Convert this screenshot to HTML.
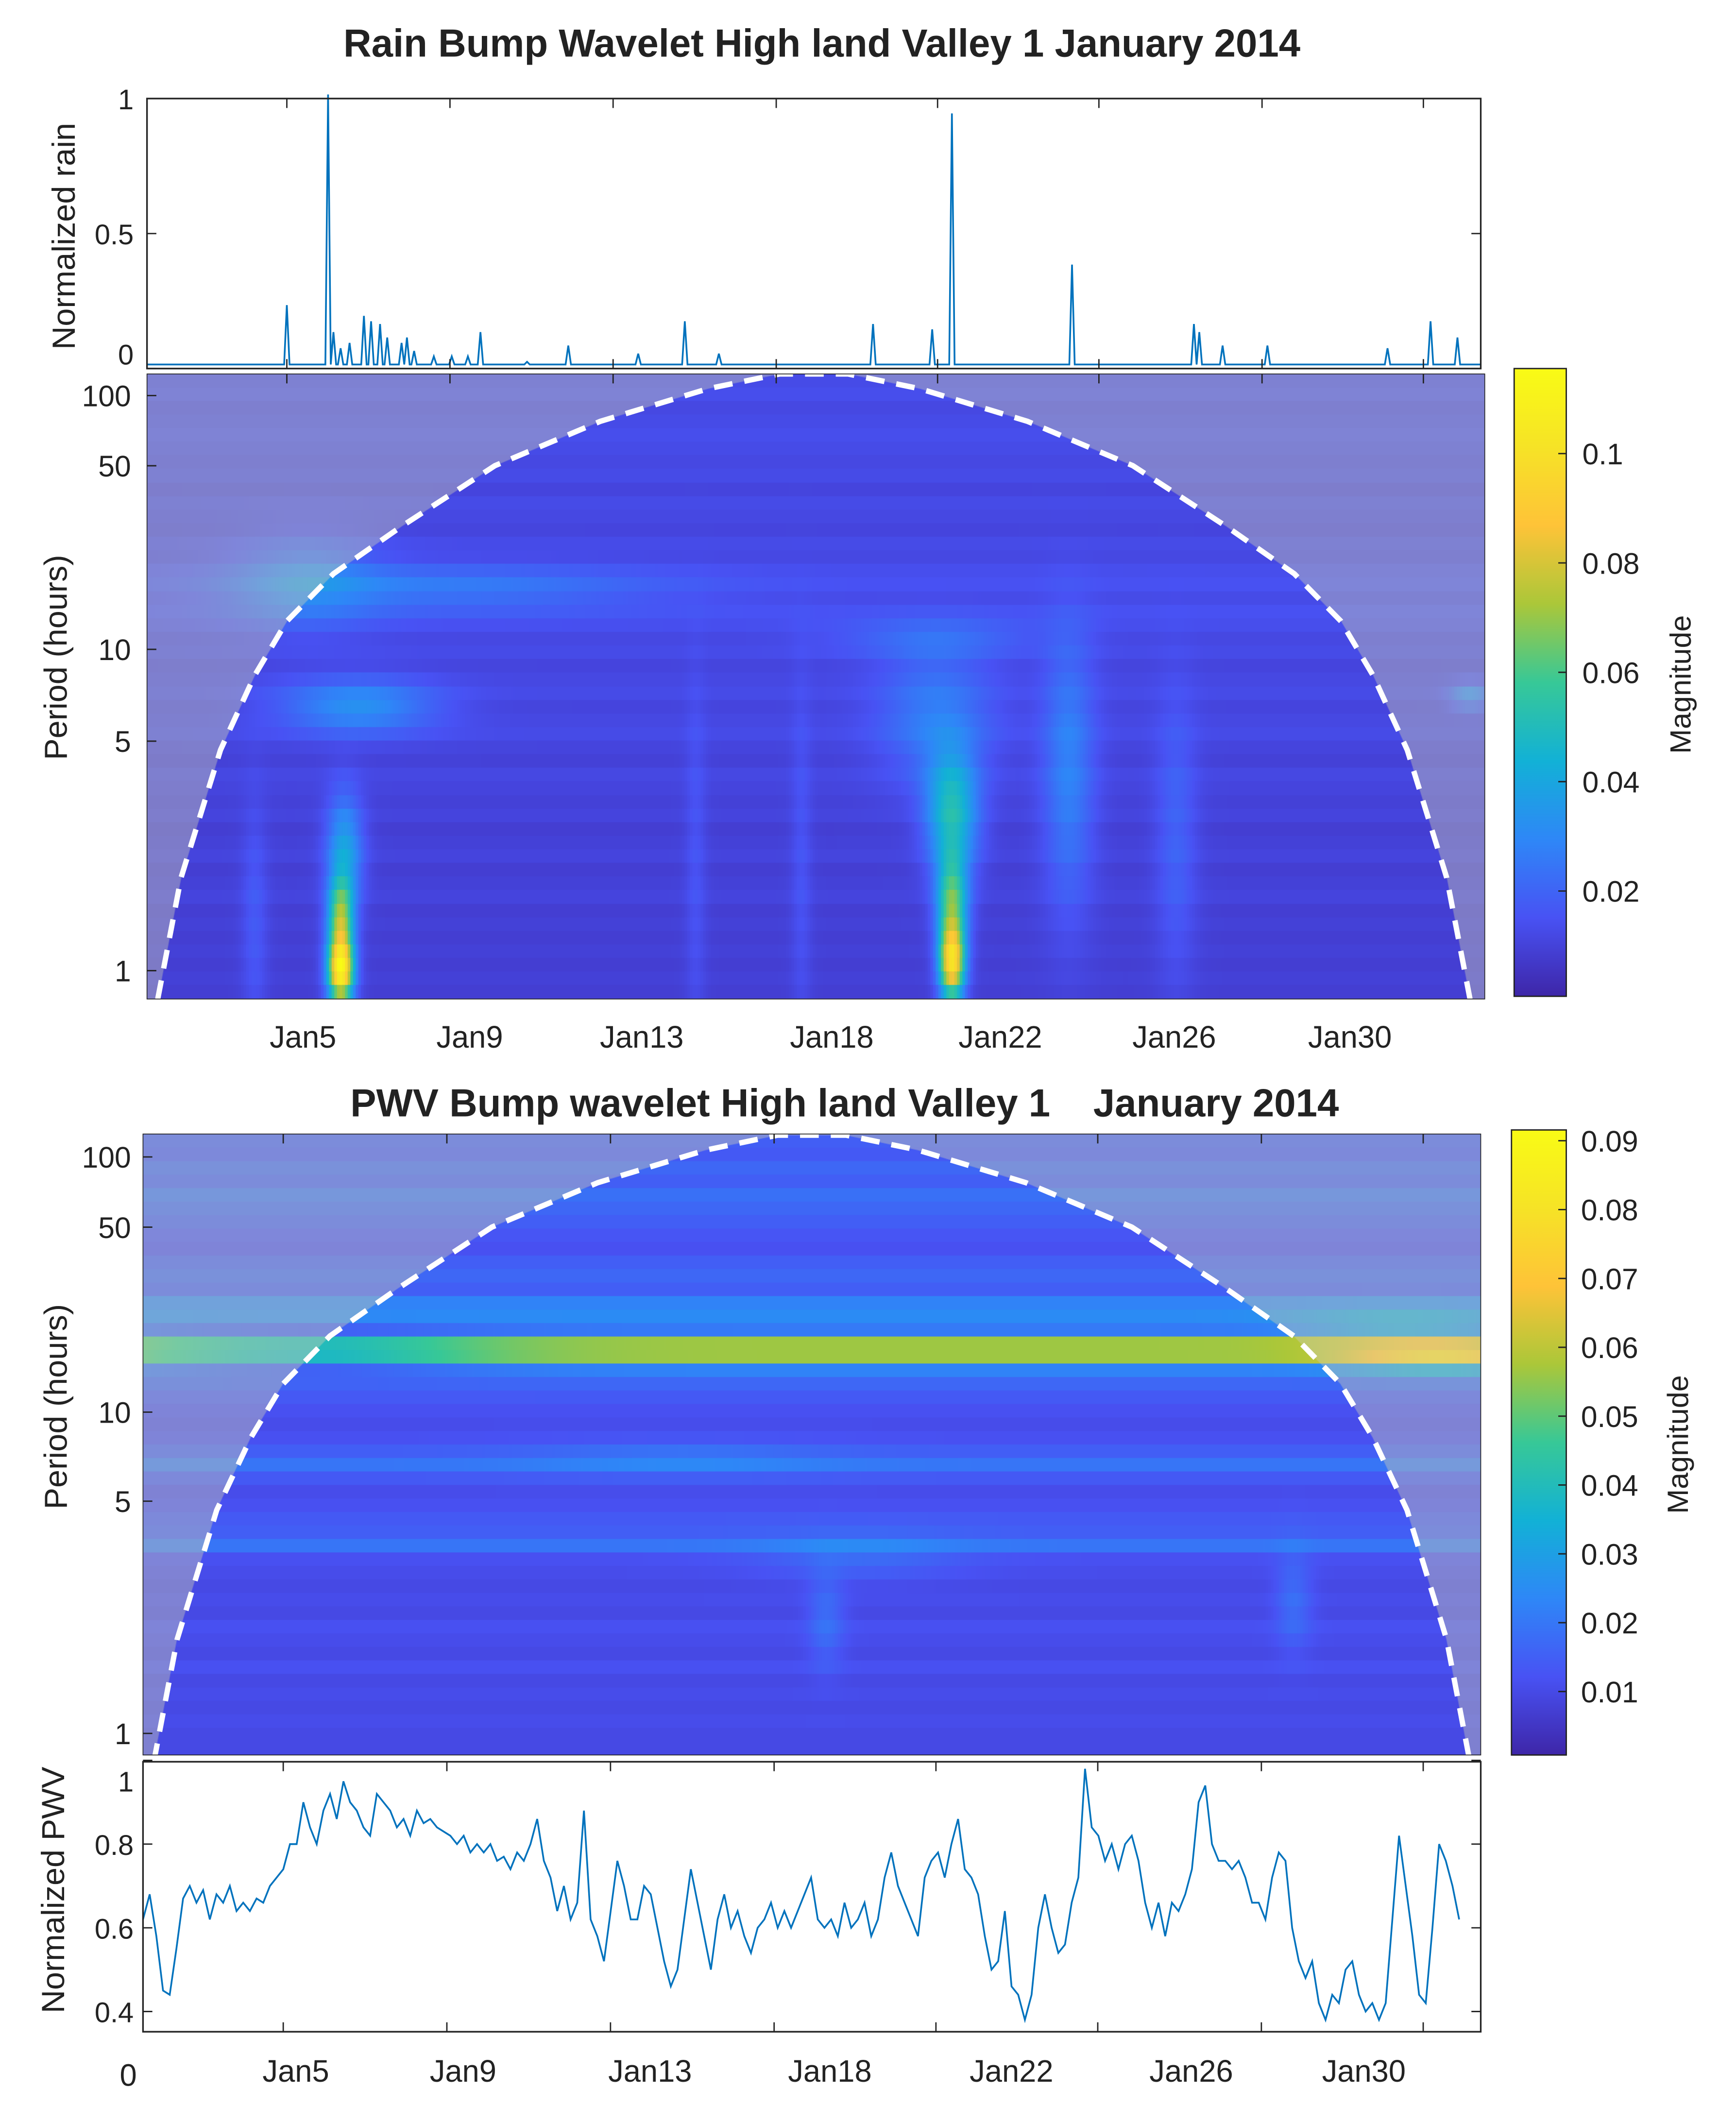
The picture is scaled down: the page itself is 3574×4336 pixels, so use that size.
<!DOCTYPE html>
<html><head><meta charset="utf-8">
<style>
html,body{margin:0;padding:0;background:#fff;}
body{width:3574px;height:4336px;position:relative;overflow:hidden;}
canvas{position:absolute;}
svg{position:absolute;left:0;top:0;}
text{font-family:"Liberation Sans",sans-serif;fill:#222;}
</style></head>
<body>
<canvas id="hm1"></canvas>
<canvas id="hm2"></canvas>
<svg id="main" width="3574" height="4336" viewBox="0 0 1299 1560" preserveAspectRatio="none">
<defs>
<linearGradient id="parula" x1="0" y1="1" x2="0" y2="0">
<stop offset="0" stop-color="rgb(62,38,168)"/><stop offset="0.125" stop-color="rgb(72,82,244)"/>
<stop offset="0.25" stop-color="rgb(46,135,247)"/><stop offset="0.375" stop-color="rgb(18,177,214)"/>
<stop offset="0.5" stop-color="rgb(55,200,151)"/><stop offset="0.625" stop-color="rgb(171,199,57)"/>
<stop offset="0.75" stop-color="rgb(254,195,56)"/><stop offset="0.875" stop-color="rgb(246,227,38)"/>
<stop offset="1" stop-color="rgb(249,251,21)"/></linearGradient>
</defs>
<text x="615" y="42" font-size="29" font-weight="bold" text-anchor="middle">Rain Bump Wavelet High land Valley 1 January 2014</text>
<text x="632" y="827" font-size="29" font-weight="bold" text-anchor="middle" xml:space="preserve">PWV Bump wavelet High land Valley 1    January 2014</text>
<text transform="translate(56,175) rotate(-90)" font-size="24" text-anchor="middle">Normalized rain</text>
<text transform="translate(50,487) rotate(-90)" font-size="24" text-anchor="middle">Period (hours)</text>
<text transform="translate(50,1042) rotate(-90)" font-size="24" text-anchor="middle">Period (hours)</text>
<text transform="translate(48,1400) rotate(-90)" font-size="24" text-anchor="middle">Normalized PWV</text>
<text transform="translate(1265,507) rotate(-90)" font-size="22" text-anchor="middle">Magnitude</text>
<text transform="translate(1263,1070) rotate(-90)" font-size="22" text-anchor="middle">Magnitude</text>
<rect x="1133" y="273" width="39" height="465" fill="url(#parula)" stroke="#222" stroke-width="1"/>
<rect x="1131" y="837" width="41" height="463" fill="url(#parula)" stroke="#222" stroke-width="1"/>
<g id="dyn"></g>
</svg>
<script>
// ---------- data ----------
const rainSpikeHours=[78,101,104,108,113,121,125,130,134,142,145,149,160,170,179,186,212,235,274,300,319,405,438,449,516,584,587,600,625,692,716,731];
const rainSpikeValues=[0.22,1.0,0.12,0.06,0.08,0.18,0.16,0.15,0.10,0.08,0.10,0.05,0.03,0.03,0.03,0.12,0.01,0.07,0.04,0.16,0.04,0.15,0.13,0.93,0.37,0.15,0.12,0.07,0.07,0.06,0.16,0.10];
const pwvValues=[0.62,0.68,0.58,0.45,0.44,0.55,0.67,0.70,0.66,0.69,0.62,0.68,0.66,0.70,0.64,0.66,0.64,0.67,0.66,0.70,0.72,0.74,0.80,0.80,0.90,0.84,0.80,0.88,0.92,0.86,0.95,0.90,0.88,0.84,0.82,0.92,0.90,0.88,0.84,0.86,0.82,0.88,0.85,0.86,0.84,0.83,0.82,0.80,0.82,0.78,0.80,0.78,0.80,0.76,0.77,0.74,0.78,0.76,0.80,0.86,0.76,0.72,0.64,0.70,0.62,0.66,0.88,0.62,0.58,0.52,0.64,0.76,0.70,0.62,0.62,0.70,0.68,0.60,0.52,0.46,0.50,0.62,0.74,0.66,0.58,0.50,0.62,0.68,0.60,0.64,0.58,0.54,0.60,0.62,0.66,0.60,0.64,0.60,0.64,0.68,0.72,0.62,0.60,0.62,0.58,0.66,0.60,0.62,0.66,0.58,0.62,0.72,0.78,0.70,0.66,0.62,0.58,0.72,0.76,0.78,0.72,0.80,0.86,0.74,0.72,0.68,0.58,0.50,0.52,0.64,0.46,0.44,0.38,0.44,0.60,0.68,0.60,0.54,0.56,0.66,0.72,0.98,0.84,0.82,0.76,0.80,0.74,0.80,0.82,0.76,0.66,0.60,0.66,0.58,0.66,0.64,0.68,0.74,0.90,0.94,0.80,0.76,0.76,0.74,0.76,0.72,0.66,0.66,0.62,0.72,0.78,0.76,0.60,0.52,0.48,0.52,0.42,0.38,0.44,0.42,0.50,0.52,0.44,0.40,0.42,0.38,0.42,0.62,0.82,0.70,0.58,0.44,0.42,0.60,0.80,0.76,0.70,0.62];
const pwvEndHour=732;
const tickHours=[78,169,260,351,441,531,622,712];
const dayLabels=["Jan5","Jan9","Jan13","Jan18","Jan22","Jan26","Jan30"];
const rainLabelHours=[87,180,276,382,476,573,671];
const pwvLabelHours=[85,178,282,382,483,583,679];
const rainTicks=[0,0.5,1];
const pwvTicks=[0.4,0.6,0.8,1];
const periodTicks=[1,5,10,50,100];
const rainCbarTicks=[0.02,0.04,0.06,0.08,0.1];
const pwvCbarTicks=[0.01,0.02,0.03,0.04,0.05,0.06,0.07,0.08,0.09];
const coiHoursLeft=[6,19,41,60,78,104,142,194,253,313,353];
const coiPeriods=[0.82,1.92,4.7,8.2,12.8,19.4,29.4,50,77.6,107,124];
const rainRowMags=[0.012,0.013,0.011,0.012,0.013,0.012,0.011,0.012,0.010,0.012,0.011,0.010,0.012,0.011,0.013,0.014,0.012,0.014,0.013,0.011,0.012,0.010,0.011,0.012,0.010,0.011,0.012,0.010,0.009,0.011,0.010,0.009,0.010,0.008,0.009,0.010,0.008,0.009,0.010,0.008,0.009,0.008,0.009,0.008,0.009,0.008];
const rainBlobs=[[108,1.0,5,0.07,0.10],[108,1.45,5,0.08,0.055],[110,2.3,7,0.12,0.03],[118,6.5,30,0.06,0.022],[449,1.05,5,0.08,0.085],[449,1.6,6,0.1,0.05],[449,3.0,10,0.13,0.04],[440,6,22,0.15,0.016],[440,11,40,0.05,0.01],[514,4,10,0.3,0.018],[574,2.5,8,0.3,0.01],[306,2,4,0.4,0.006],[365,2,4,0.4,0.006],[60,1.4,5,0.25,0.008],[171,17,80,0.06,0.012],[89,18,28,0.12,0.014],[738,7,8,0.03,0.018]];
const pwvRowMags=[0.014,0.013,0.016,0.014,0.018,0.016,0.014,0.012,0.011,0.014,0.016,0.014,0.022,0.024,0.02,0.056,0.056,0.022,0.016,0.013,0.011,0.01,0.011,0.014,0.019,0.013,0.01,0.011,0.013,0.014,0.019,0.011,0.01,0.009,0.01,0.009,0.011,0.01,0.009,0.011,0.009,0.01,0.009,0.01,0.009,0.009];
const pwvBlobs=[[90,17,70,0.05,-0.02],[720,16,35,0.04,0.02],[700,21,40,0.05,0.01],[380,2.2,7,0.1,0.008],[640,2.5,7,0.1,0.008],[400,3.4,40,0.05,0.006],[300,7,60,0.04,0.005]];
// ---------- helpers ----------
const SX=3574/1299, SY=4336/1560;
const NS="http://www.w3.org/2000/svg";
const dyn=document.getElementById('dyn');
function el(tag,attrs){const e=document.createElementNS(NS,tag);for(const k in attrs)e.setAttribute(k,attrs[k]);dyn.appendChild(e);return e;}
const xr=h=>110+h*998/744;
const xp=h=>107+h*1001/744;
const yRain=v=>273-v*200;
const yPwv=v=>1490-(v-0.4)*310;
function makePeriodY(tickYs){return p=>{const lp=Math.log10(p);const lt=periodTicks.map(Math.log10);
 let i=0;if(lp>lt[lt.length-1])i=lt.length-2;else{while(i<lt.length-2&&lp>lt[i+1])i++;}
 const t=(lp-lt[i])/(lt[i+1]-lt[i]);return tickYs[i]+t*(tickYs[i+1]-tickYs[i]);};}
function makeYPeriod(tickYs){const lt=periodTicks.map(Math.log10);return y=>{
 let i=0;if(y<tickYs[tickYs.length-1])i=tickYs.length-2;else{while(i<tickYs.length-2&&y<tickYs[i+1])i++;}
 const t=(y-tickYs[i])/(tickYs[i+1]-tickYs[i]);return Math.pow(10,lt[i]+t*(lt[i+1]-lt[i]));};}
const rainPY=[719,549,481,345,293], pwvPY=[1284,1112,1046,909,857];
const yRainP=makePeriodY(rainPY), yPwvP=makePeriodY(pwvPY);
const pRainY=makeYPeriod(rainPY), pPwvY=makeYPeriod(pwvPY);
const stops=[[62,38,168],[72,82,244],[46,135,247],[18,177,214],[55,200,151],[171,199,57],[254,195,56],[246,227,38],[249,251,21]];
function parula(t){t=Math.max(0,Math.min(1,t))*8;const i=Math.min(7,Math.floor(t)),f=t-i;const a=stops[i],b=stops[i+1];return [0,1,2].map(k=>Math.round(a[k]+f*(b[k]-a[k])));}
function coiPoints(xf,yf){const pts=[];for(let i=0;i<coiHoursLeft.length;i++)pts.push([xf(coiHoursLeft[i]),yf(coiPeriods[i])]);
 for(let i=coiHoursLeft.length-1;i>=0;i--)pts.push([xf(744-coiHoursLeft[i]),yf(coiPeriods[i])]);return pts;}
function drawHeat(id,x0,y0,w,h,rows,blobs,xf,pY,yf,cmax){
 const c=document.getElementById(id);const R=2;c.width=w*R;c.height=h*R;
 c.style.left=(x0*SX)+'px';c.style.top=(y0*SY)+'px';c.style.width=(w*SX)+'px';c.style.height=(h*SY)+'px';
 const ctx=c.getContext('2d');const rh=h/rows.length;const cw=2;
 const hOf=x=>(x-xf(0))/(xf(744)-xf(0))*744;
 for(let r=0;r<rows.length;r++){const yc=y0+(r+0.5)*rh;const lp=Math.log10(pY(yc));
  for(let cx=0;cx<w;cx+=cw){const hr=hOf(x0+cx+cw/2);let m=rows[r];
   for(const b of blobs){const dx=(hr-b[0])/b[2],dy=(lp-Math.log10(b[1]))/b[3];m+=b[4]*Math.exp(-0.5*(dx*dx+dy*dy));}
   const col=parula(m/cmax);ctx.fillStyle='rgb('+col+')';ctx.fillRect(cx*R,Math.floor(r*rh*R),cw*R+1,Math.ceil(rh*R)+1);}}
 const pts=coiPoints(xf,yf);ctx.beginPath();ctx.rect(0,0,w*R,h*R);
 ctx.moveTo((pts[0][0]-x0)*R,h*R);pts.forEach(p=>ctx.lineTo((p[0]-x0)*R,Math.max(0,(p[1]-y0))*R));ctx.lineTo((pts[pts.length-1][0]-x0)*R,h*R);ctx.closePath();
 ctx.fillStyle='rgba(204,204,180,0.42)';ctx.fill('evenodd');}
drawHeat('hm1',110,277,1001,463,rainRowMags,rainBlobs,xr,pRainY,yRainP,0.1155);
drawHeat('hm2',107,840,1001,460,pwvRowMags,pwvBlobs,xp,pPwvY,yPwvP,0.0916);
// COI dashed curves
[[xr,yRainP,'rain-coi-boundary',277],[xp,yPwvP,'pwv-coi-boundary',840]].forEach(([xf,yf,nm,top])=>{
 const pts=coiPoints(xf,yf).map(p=>[p[0],Math.max(top,p[1])]);
 const e=el('polyline',{points:pts.map(p=>p.join(',')).join(' '),fill:'none',stroke:'#fff','stroke-width':4,'stroke-dasharray':'14,9','stroke-linejoin':'round'});
 
 });
// rain line
{const pts=[[0,0]];rainSpikeHours.forEach((hh,i)=>{pts.push([hh-1.5,0],[hh,rainSpikeValues[i]],[hh+1.5,0]);});pts.push([744,0]);
 const e=el('polyline',{points:pts.map(p=>xr(p[0])+','+(yRain(p[1])-3)).join(' '),fill:'none',stroke:'#0072bd','stroke-width':1.3});
 
 }
// pwv line
{const n=pwvValues.length;const e=el('polyline',{points:pwvValues.map((v,i)=>xp(i*pwvEndHour/(n-1))+','+yPwv(v)).join(' '),fill:'none',stroke:'#0072bd','stroke-width':1.3});
 
 }
// axes boxes
[[110,73,998,200,'rain-axes-box'],[110,277,1001,463,'rain-heatmap-frame'],[107,840,1001,460,'pwv-heatmap-frame'],[107,1305,1001,200,'pwv-axes-box']].forEach(a=>{
 const e=el('rect',{x:a[0],y:a[1],width:a[2],height:a[3],fill:'none',stroke:'#222','stroke-width':a[4].includes('heatmap')?0.6:1.2});
 
 });
// x ticks
tickHours.forEach(hh=>{[[xr,73,80],[xr,273,266],[xr,277,284],[xp,840,847],[xp,1305,1312],[xp,1505,1498]].forEach(([xf,a,b])=>{
 const e=el('line',{x1:xf(hh),x2:xf(hh),y1:a,y2:b,stroke:'#222','stroke-width':1});
 
 });});
function txt(x,y,s,size,anchor,name){const e=el('text',{x:x,y:y,'font-size':size,'text-anchor':anchor});e.textContent=s;
 
 return e;}
dayLabels.forEach((s,i)=>{txt(xr(rainLabelHours[i]),776,s,23,'middle','rain-x-tick-label');txt(xp(pwvLabelHours[i]),1542,s,23,'middle','pwv-x-tick-label');});
txt(96,1545,'0',23,'middle','pwv-x-tick-label');
rainTicks.forEach(v=>{txt(100,Math.min(yRain(v)+8,270),String(v),21,'end','rain-y-tick-label');
 [[110,117],[1108,1101]].forEach(([a,b])=>{const e=el('line',{x1:a,x2:b,y1:yRain(v),y2:yRain(v),stroke:'#222','stroke-width':1});
 
 });});
pwvTicks.forEach(v=>{txt(100,Math.max(1327,yPwv(v)+8),String(v),21,'end','pwv-y-tick-label');
 [[107,114],[1108,1101]].forEach(([a,b])=>{const e=el('line',{x1:a,x2:b,y1:yPwv(v),y2:yPwv(v),stroke:'#222','stroke-width':1});
 
 });});
periodTicks.forEach(p=>{txt(98,yRainP(p)+8,String(p),22,'end','rain-period-tick-label');txt(98,yPwvP(p)+8,String(p),22,'end','pwv-period-tick-label');
 [[110,117,yRainP(p)],[107,114,yPwvP(p)]].forEach(([a,b,y])=>{const e=el('line',{x1:a,x2:b,y1:y,y2:y,stroke:'#222','stroke-width':1});
 
 });});
rainCbarTicks.forEach(v=>{const y=741-v/0.02*81;txt(1184,y+8,String(v),22,'start','rain-colorbar-tick-label');
 const e=el('line',{x1:1166,x2:1172,y1:y,y2:y,stroke:'#222','stroke-width':1});
 
 });
pwvCbarTicks.forEach(v=>{const y=1304-v/0.01*51;txt(1183,y+8,v.toFixed(2),22,'start','pwv-colorbar-tick-label');
 const e=el('line',{x1:1166,x2:1172,y1:y,y2:y,stroke:'#222','stroke-width':1});
 
 });
</script>
</body></html>
